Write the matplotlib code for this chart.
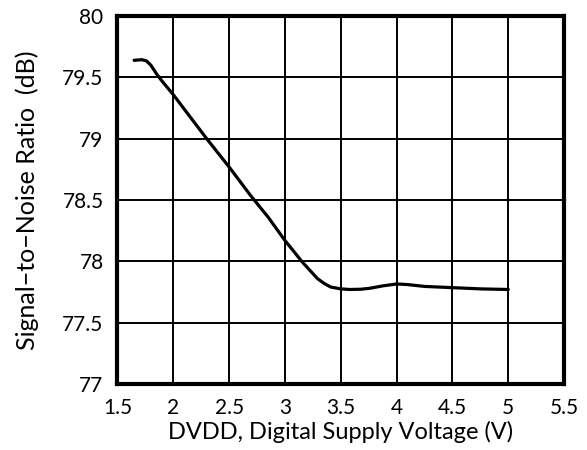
import matplotlib
matplotlib.use("Agg")
import matplotlib.pyplot as plt

# Values
voltage = [1.65, 1.72, 1.76, 1.8, 1.85, 1.9, 2.0, 2.3, 2.5, 2.69, 2.85, 3.0, 3.08,
           3.15, 3.22, 3.29, 3.35, 3.41, 3.5, 3.58, 3.68, 3.76, 3.88, 4.0, 4.1,
           4.25, 4.5, 4.75, 5.0]
snr = [79.64, 79.645, 79.635, 79.6, 79.53, 79.47, 79.36, 79.0, 78.77, 78.54,
       78.36, 78.17, 78.08, 78.0, 77.93, 77.86, 77.82, 77.79, 77.775, 77.77,
       77.772, 77.78, 77.80, 77.815, 77.81, 77.795, 77.785, 77.775, 77.77]

x_ticks = [1.5, 2, 2.5, 3, 3.5, 4, 4.5, 5, 5.5]
y_ticks = [77, 77.5, 78, 78.5, 79, 79.5, 80]

plt.rcParams["font.family"] = ["Lato", "DejaVu Sans"]

fig = plt.figure(figsize=(5.87, 4.5), dpi=100)
ax = fig.add_axes([0.200, 0.147, 0.761, 0.817])

ax.plot(voltage, snr, color="black", linewidth=2.3, solid_capstyle="round",
        solid_joinstyle="round", zorder=3)

ax.set_xlim(1.5, 5.5)
ax.set_ylim(77, 80)
ax.set_xticks(x_ticks)
ax.set_xticklabels([f"{v:g}" for v in x_ticks])
ax.set_yticks(y_ticks)
ax.set_yticklabels([f"{v:g}" for v in y_ticks])
ax.grid(True, color="black", linewidth=1.4)
ax.tick_params(axis="x", length=0, labelsize=15, pad=10)
ax.tick_params(axis="y", length=0, labelsize=15, pad=10)

for s in ax.spines.values():
    s.set_linewidth(3)

ax.set_xlabel("DVDD, Digital Supply Voltage (V)", fontsize=17, labelpad=2)
ax.set_ylabel("Signal\u2212to\u2212Noise Ratio  (dB)", fontsize=18, labelpad=17)

fig.savefig("out.png", dpi=100)
